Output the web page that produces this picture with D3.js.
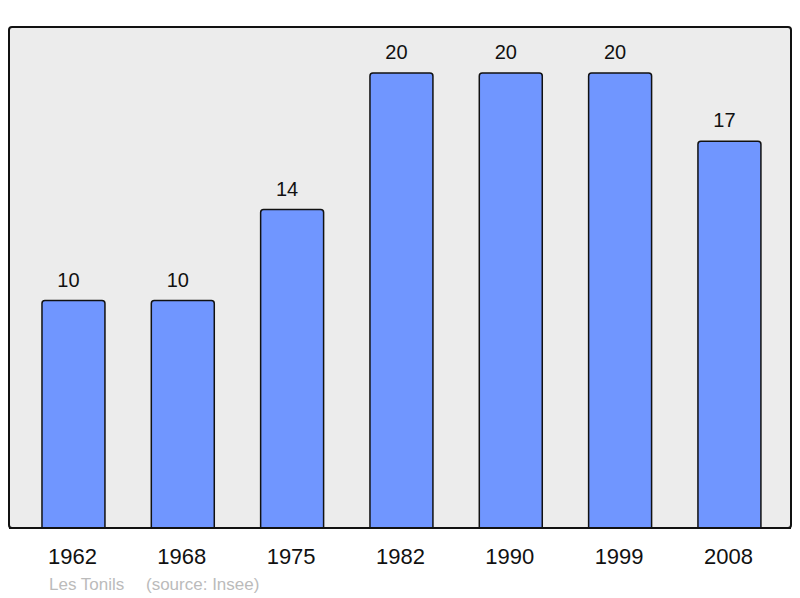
<!DOCTYPE html>
<html><head><meta charset="utf-8">
<script src="https://cdn.jsdelivr.net/npm/d3@7"></script>
<style>body{margin:0;background:#fff}svg{display:block}</style>
</head><body>
<svg id="c" width="800" height="598"></svg>
<script>
const years = ["1962","1968","1975","1982","1990","1999","2008"];
const population = [10,10,14,20,20,20,17];
const footerName = "Les Tonils";
const footerSource = "(source: Insee)";

const svg = d3.select("#c");
const font = "'Liberation Sans', Arial, sans-serif";
const frame = {x0: 9, x1: 791, y0: 27, y1: 528};

svg.append("rect").attr("x", frame.x0).attr("y", frame.y0)
  .attr("width", frame.x1 - frame.x0).attr("height", frame.y1 - frame.y0)
  .attr("rx", 3).attr("fill", "#ececec").attr("stroke", "#111").attr("stroke-width", 2);

const x = d3.scaleBand().domain(years).range([18.8, 784.1]).paddingInner(0.424).paddingOuter(0.212);
const y = d3.scaleLinear().domain([0, 20]).range([frame.y1, 73]);

const g = svg.append("g");
g.selectAll("path.bar").data(years).join("path")
  .attr("class","bar")
  .attr("d", (d,i) => {
    const x0 = x(d), w = x.bandwidth(), t = y(population[i]), b = frame.y1, r = 3;
    return `M${x0},${b}V${t+r}Q${x0},${t} ${x0+r},${t}H${x0+w-r}Q${x0+w},${t} ${x0+w},${t+r}V${b}`;
  })
  .attr("fill", "#7096ff").attr("stroke", "#111").attr("stroke-width", 1.5);

g.selectAll("text.val").data(years).join("text")
  .attr("class","val")
  .attr("x", d => x(d) + x.bandwidth()/2 - 5)
  .attr("y", (d,i) => y(population[i]) - 14)
  .attr("text-anchor","middle").attr("font-family", font).attr("font-size", 20)
  .attr("fill","#111").text((d,i) => population[i]);

svg.append("line").attr("x1", frame.x0).attr("x2", frame.x1).attr("y1", frame.y1).attr("y2", frame.y1)
  .attr("stroke","#111").attr("stroke-width",2);

const axis = d3.axisBottom(x).tickSize(0).tickPadding(0);
const ax = svg.append("g").attr("transform", `translate(0,${frame.y1})`).call(axis);
ax.select(".domain").remove();
ax.selectAll("text").attr("font-family", font).attr("font-size", 22).attr("fill","#111")
  .attr("dy", null).attr("y", 36).attr("dx", -1);

svg.append("text").attr("x", 49).attr("y", 590).attr("font-family", font).attr("font-size", 17)
  .attr("fill","#bbb").text(footerName);
svg.append("text").attr("x", 146).attr("y", 590).attr("font-family", font).attr("font-size", 17)
  .attr("fill","#bbb").text(footerSource);
</script>
</body></html>
